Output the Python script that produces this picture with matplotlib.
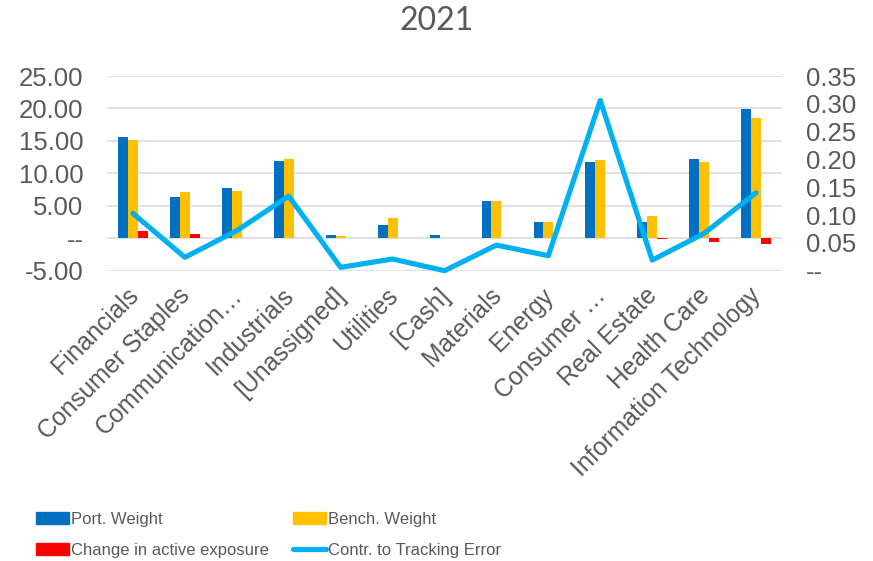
import numpy as np
import matplotlib
matplotlib.use("Agg")
import matplotlib.pyplot as plt
from matplotlib.patches import Patch
from matplotlib.lines import Line2D
from matplotlib.ticker import FuncFormatter
from matplotlib.transforms import ScaledTranslation

plt.rcParams["axes.unicode_minus"] = False
plt.rcParams["font.family"] = ["Liberation Sans", "DejaVu Sans"]

# sector weights (%) and contribution to tracking error
sectors = ["Financials", "Consumer Staples", "Communication\u2026", "Industrials",
           "[Unassigned]", "Utilities", "[Cash]", "Materials", "Energy",
           "Consumer \u2026", "Real Estate", "Health Care", "Information Technology"]
port_weight = [15.56, 6.40, 7.70, 11.86, 0.56, 2.05, 0.50, 5.75, 2.56, 11.70, 2.56, 12.17, 19.97]
bench_weight = [15.15, 7.13, 7.29, 12.20, 0.35, 3.18, 0.0, 5.75, 2.46, 12.10, 3.44, 11.76, 18.58]
active_change = [1.12, 0.71, 0.08, 0.06, 0.0, 0.0, 0.0, 0.0, 0.0, 0.0, -0.10, -0.57, -0.83]
te_contrib = [0.103, 0.024, 0.072, 0.134, 0.006, 0.021, 0.0, 0.046, 0.027, 0.306, 0.019, 0.067, 0.140]

BLUE = "#0070C0"
GOLD = "#FFC000"
RED = "#FF0000"
CYAN = "#00B0F0"
GREY = "#595959"


def fmt_dash(v, pos):
    return "--" if abs(v) < 1e-9 else f"{v:.2f}"


fig = plt.figure(figsize=(8.73, 5.61), dpi=100)
ax = fig.add_axes([107 / 873, 1 - 270.7 / 561, 675 / 873, 194.7 / 561])

x = np.arange(len(sectors))
w = 0.19
ax.bar(x - w, port_weight, w, color=BLUE, zorder=2)
ax.bar(x, bench_weight, w, color=GOLD, zorder=2)
ax.bar(x + w, active_change, w, color=RED, zorder=2)

ax.set_xlim(-0.5, len(sectors) - 0.5)
ax.set_ylim(-5, 25)
ax.set_yticks(np.arange(-5, 26, 5))
ax.yaxis.set_major_formatter(FuncFormatter(fmt_dash))
ax.grid(axis="y", color="#D9D9D9", linewidth=1.1, zorder=0)
ax.set_axisbelow(True)
for s in ax.spines.values():
    s.set_visible(False)
ax.tick_params(axis="y", length=0, pad=17, labelsize=18.5, labelcolor=GREY)
ax.tick_params(axis="x", length=0, pad=9)
ax.set_xticks(x)
ax.set_xticklabels(sectors, rotation=45, ha="right", va="top",
                   fontsize=17.8, color=GREY)
# nudge the slanted labels so their ends sit at the category centre
shift = ScaledTranslation(10 / 100, 0, fig.dpi_scale_trans)
for lab in ax.get_xticklabels():
    lab.set_transform(lab.get_transform() + shift)

ax2 = ax.twinx()
ax2.plot(x, te_contrib, color=CYAN, linewidth=3.7, solid_joinstyle="round",
         solid_capstyle="round", clip_on=False)
ax2.set_ylim(0, 0.35)
ax2.set_yticks(np.arange(0, 0.351, 0.05))
ax2.yaxis.set_major_formatter(FuncFormatter(fmt_dash))
for s in ax2.spines.values():
    s.set_visible(False)
ax2.tick_params(axis="y", length=0, pad=17, labelsize=18.5, labelcolor=GREY)

fig.text(437 / 873, 1 - 21 / 561, "2021", ha="center", va="center",
         fontsize=23, color=GREY, family=["Lato", "DejaVu Sans"])

leg_font = {"family": ["Liberation Sans", "DejaVu Sans"], "size": 12}
leg_kw = dict(frameon=False, prop=leg_font, labelcolor=GREY, handlelength=1.95,
              handleheight=0.75, handletextpad=0.15, labelspacing=0.95,
              borderaxespad=0, borderpad=0, loc="upper left")
fig.legend([Patch(color=BLUE), Patch(color=RED)],
           ["Port. Weight", "Change in active exposure"],
           bbox_to_anchor=(36 / 873, 1 - 512 / 561), **leg_kw)
fig.legend([Patch(color=GOLD),
            Line2D([], [], color=CYAN, linewidth=3.7, solid_capstyle="round")],
           ["Bench. Weight", "Contr. to Tracking Error"],
           bbox_to_anchor=(293 / 873, 1 - 512 / 561), **leg_kw)

fig.savefig("out.png", dpi=100)
